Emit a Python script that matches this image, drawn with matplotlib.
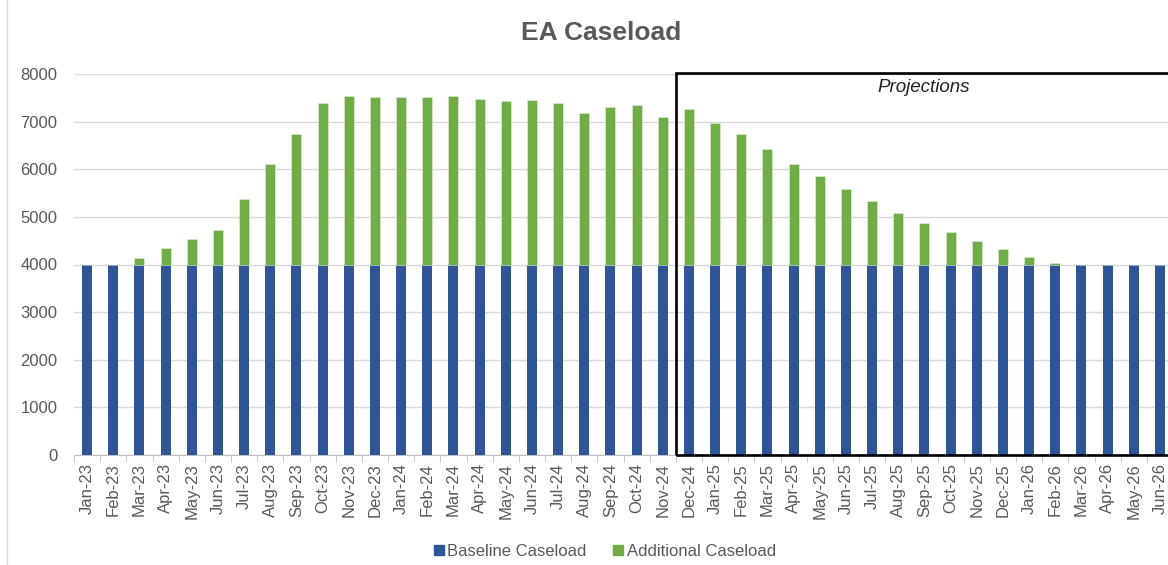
import matplotlib.pyplot as plt
from matplotlib.patches import Rectangle
from matplotlib.lines import Line2D

months = ['Jan-23', 'Feb-23', 'Mar-23', 'Apr-23', 'May-23', 'Jun-23',
          'Jul-23', 'Aug-23', 'Sep-23', 'Oct-23', 'Nov-23', 'Dec-23',
          'Jan-24', 'Feb-24', 'Mar-24', 'Apr-24', 'May-24', 'Jun-24',
          'Jul-24', 'Aug-24', 'Sep-24', 'Oct-24', 'Nov-24', 'Dec-24',
          'Jan-25', 'Feb-25', 'Mar-25', 'Apr-25', 'May-25', 'Jun-25',
          'Jul-25', 'Aug-25', 'Sep-25', 'Oct-25', 'Nov-25', 'Dec-25',
          'Jan-26', 'Feb-26', 'Mar-26', 'Apr-26', 'May-26', 'Jun-26']

baseline = [4000, 4000, 4000, 4000, 4000, 4000, 4000, 4000, 4000, 4000, 4000, 4000,
            4000, 4000, 4000, 4000, 4000, 4000, 4000, 4000, 4000, 4000, 4000, 4000,
            4000, 4000, 4000, 4000, 4000, 4000, 4000, 4000, 4000, 4000, 4000, 4000,
            4000, 4000, 4000, 4000, 4000, 4000]

additional = [0, 0, 140, 340, 540, 730, 1380, 2100, 2750, 3400, 3540, 3510,
              3510, 3510, 3540, 3480, 3430, 3455, 3400, 3175, 3315, 3340, 3090, 3260,
              2980, 2730, 2420, 2110, 1860, 1580, 1330, 1080, 880, 685, 490, 320,
              150, 40, 0, 0, 0, 0]

# first projected month
proj_start = 'Dec-24'

BLUE = '#2F5597'
GREEN = '#70AD47'
GREY = '#595959'

plt.rcParams['font.family'] = ['Liberation Sans', 'DejaVu Sans']

W, H = 1168, 565
fig = plt.figure(figsize=(W / 100, H / 100), dpi=100)
# axes runs a bit past the right edge, like the cropped original
ax = fig.add_axes([74 / W, 1 - 455 / H, (1173 - 74) / W, (455 - 74) / H])

x = list(range(len(months)))
ax.bar(x, baseline, width=0.38, color=BLUE, zorder=3, label='Baseline Caseload')
ax.bar(x, additional, width=0.38, bottom=baseline, color=GREEN,
       edgecolor='#E2EFDA', linewidth=0.4, zorder=3, label='Additional Caseload')

ax.set_xlim(-0.5, len(months) - 0.5)
ax.set_ylim(0, 8000)
ax.set_yticks(range(0, 8001, 1000))
ax.set_xticks(x)
ax.set_xticklabels(months, rotation=90, fontsize=12, color=GREY)
ax.set_xticks([i + 0.5 for i in range(-1, len(months))], minor=True)
ax.tick_params(axis='x', which='major', length=0, pad=6)
ax.tick_params(axis='x', which='minor', length=5, color='#BFBFBF')
ax.tick_params(axis='y', length=0, pad=12, labelsize=12, labelcolor=GREY)

ax.grid(axis='y', color='#D9D9D9', linewidth=1, zorder=0)
for s in ['left', 'right', 'top']:
    ax.spines[s].set_visible(False)
ax.spines['bottom'].set_color('#BFBFBF')

# projections box
p0 = months.index(proj_start) - 0.5
box = Rectangle((p0, 0), len(months) + 2 - p0, 8025, fill=False,
                edgecolor='black', linewidth=1.9, clip_on=False, zorder=5)
ax.add_patch(box)
fig.text(924 / W, 1 - 88 / H, 'Projections', style='italic', fontsize=13.5,
         color='#222222', ha='center', va='center')

fig.text(601 / W, 1 - 33 / H, 'EA Caseload', fontsize=19, fontweight='bold',
         color=GREY, ha='center', va='center')

# chart border on the left
fig.add_artist(Line2D([7 / W, 7 / W], [0, 1], color='#D9D9D9', linewidth=1))

handles = [Line2D([], [], marker='s', linestyle='', color=BLUE, markersize=7),
           Line2D([], [], marker='s', linestyle='', color=GREEN, markersize=7)]
fig.legend(handles, ['Baseline Caseload', 'Additional Caseload'],
           loc='center', bbox_to_anchor=(604 / W, 1 - 551 / H), ncol=2,
           frameon=False, fontsize=12, labelcolor=GREY, handletextpad=0.1,
           columnspacing=1.5, handlelength=0.8)

fig.savefig('out.png', dpi=100)
